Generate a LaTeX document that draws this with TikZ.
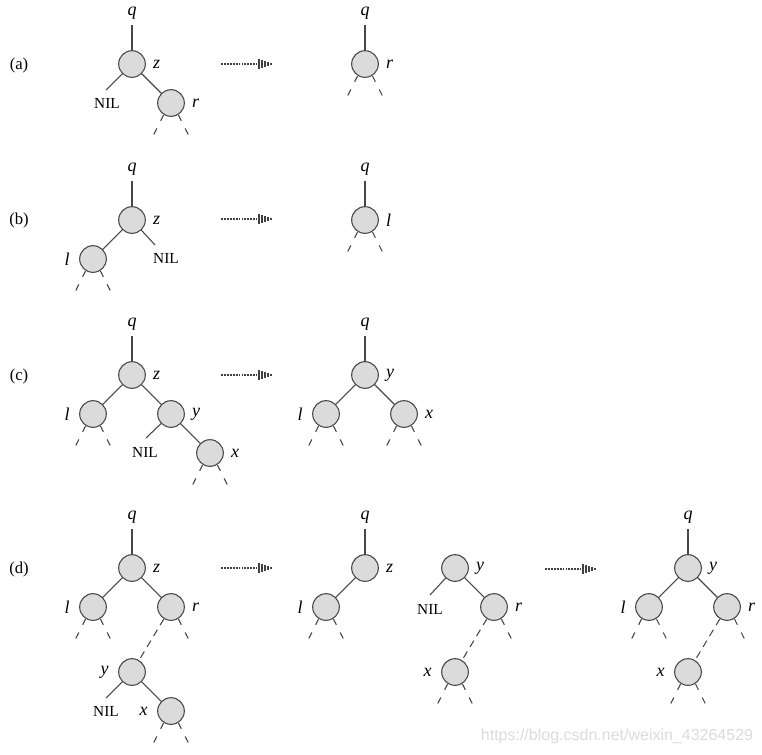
\documentclass[tikz,border=0pt]{standalone}
\usepackage{fontspec}
\setmainfont{Liberation Serif}
\newfontfamily\chuweb{Liberation Sans}
\begin{document}
\begin{tikzpicture}[x=0.75pt, y=-0.75pt,
    nut/.style={circle, draw=black!72, fill=black!14, line width=0.8pt, minimum size=20pt, inner sep=0pt},
    canh/.style={draw=black!72, line width=0.8pt},
    nhanh/.style={canh, dash pattern=on 5.5pt off 4pt},
    caycon/.style={canh, dash pattern=on 5pt off 6.5pt},
    nhan/.style={font=\fontsize{13.5}{15}\selectfont\itshape, text=black, inner sep=2pt},
    goc/.style={nhan, inner sep=4.5pt},
    chunil/.style={font=\fontsize{11.5}{13}\selectfont, text=black, inner sep=0pt},
    tenhinh/.style={font=\fontsize{12.5}{14}\selectfont, text=black},
    phai/.style={label={[nhan, label distance=3.2pt]right:#1}},
    trai/.style={label={[nhan, label distance=5pt]left:#1}},
    muiten/.style={black!75, line width=1.8pt, dash pattern=on 1.4pt off 0.8pt},
    dauten/.style={black!75, line width=0.9pt}]
    % 1. Khung hình
    \useasboundingbox (0,0) rectangle (762,754);

    % 2. Hàng (a)
    \node[tenhinh] (aTen) at (19,65) {(a)};
    \node[nut, phai=z] (aZ) at (132,64) {};
    \node[goc] (aQ) at (132,13) {q};
    \node[nut, phai=r] (aR) at (171,103) {};
    \coordinate (aNilEnd) at (106,90);
    \node[chunil] (aNil) at (107,103) {NIL};
    \draw[canh] (aQ) -- (aZ);
    \draw[canh] (aZ) -- (aNilEnd);
    \draw[canh] (aZ) -- (aR);
    % cây sau khi xóa
    \node[nut, phai=r] (aR2) at (365,64) {};
    \node[goc] (aQ2) at (365,13) {q};
    \draw[canh] (aQ2) -- (aR2);

    % 3. Hàng (b)
    \node[tenhinh] (bTen) at (19,220) {(b)};
    \node[nut, phai=z] (bZ) at (132,220) {};
    \node[goc] (bQ) at (132,169) {q};
    \node[nut, trai=l] (bL) at (93,259) {};
    \coordinate (bNilEnd) at (155,245);
    \node[chunil] (bNil) at (166,258) {NIL};
    \draw[canh] (bQ) -- (bZ);
    \draw[canh] (bZ) -- (bL);
    \draw[canh] (bZ) -- (bNilEnd);
    % cây sau khi xóa
    \node[nut, phai=l] (bL2) at (365,220) {};
    \node[goc] (bQ2) at (365,169) {q};
    \draw[canh] (bQ2) -- (bL2);

    % 4. Hàng (c)
    \node[tenhinh] (cTen) at (19,376) {(c)};
    \node[nut, phai=z] (cZ) at (132,375) {};
    \node[goc] (cQ) at (132,324) {q};
    \node[nut, trai=l] (cL) at (93,414) {};
    \node[nut, phai=y] (cY) at (171,414) {};
    \coordinate (cNilEnd) at (146,438);
    \node[chunil] (cNil) at (145,452) {NIL};
    \node[nut, phai=x] (cX) at (210,453) {};
    \draw[canh] (cQ) -- (cZ);
    \draw[canh] (cZ) -- (cL);
    \draw[canh] (cZ) -- (cY);
    \draw[canh] (cY) -- (cNilEnd);
    \draw[canh] (cY) -- (cX);
    % cây sau khi xóa
    \node[nut, phai=y] (cY2) at (365,375) {};
    \node[goc] (cQ2) at (365,324) {q};
    \node[nut, trai=l] (cL2) at (326,414) {};
    \node[nut, phai=x] (cX2) at (404,414) {};
    \draw[canh] (cQ2) -- (cY2);
    \draw[canh] (cY2) -- (cL2);
    \draw[canh] (cY2) -- (cX2);

    % 5. Hàng (d)
    \node[tenhinh] (dTen) at (19,569) {(d)};
    \node[nut, phai=z] (dZ) at (132,568) {};
    \node[goc] (dQ) at (132,517) {q};
    \node[nut, trai=l] (dL) at (93,607) {};
    \node[nut, phai=r] (dR) at (171,607) {};
    \node[nut, trai=y] (dY) at (132,672) {};
    \coordinate (dNilEnd) at (106,698);
    \node[chunil] (dNil) at (106,711) {NIL};
    \node[nut, trai=x] (dX) at (171,711) {};
    \draw[canh] (dQ) -- (dZ);
    \draw[canh] (dZ) -- (dL);
    \draw[canh] (dZ) -- (dR);
    \draw[nhanh] (dR) -- (dY);
    \draw[canh] (dY) -- (dNilEnd);
    \draw[canh] (dY) -- (dX);
    % bước giữa
    \node[nut, phai=z] (dZ2) at (365,568) {};
    \node[goc] (dQ2) at (365,517) {q};
    \node[nut, trai=l] (dL2) at (326,607) {};
    \draw[canh] (dQ2) -- (dZ2);
    \draw[canh] (dZ2) -- (dL2);
    \node[nut, phai=y] (dY3) at (455,568) {};
    \coordinate (dNil3End) at (430,595);
    \node[chunil] (dNil3) at (430,609) {NIL};
    \node[nut, phai=r] (dR3) at (494,607) {};
    \node[nut, trai=x] (dX3) at (455,672) {};
    \draw[canh] (dY3) -- (dNil3End);
    \draw[canh] (dY3) -- (dR3);
    \draw[nhanh] (dR3) -- (dX3);
    % cây sau khi xóa
    \node[nut, phai=y] (dY4) at (688,568) {};
    \node[goc] (dQ4) at (688,517) {q};
    \node[nut, trai=l] (dL4) at (649,607) {};
    \node[nut, phai=r] (dR4) at (727,607) {};
    \node[nut, trai=x] (dX4) at (688,672) {};
    \draw[canh] (dQ4) -- (dY4);
    \draw[canh] (dY4) -- (dL4);
    \draw[canh] (dY4) -- (dR4);
    \draw[nhanh] (dR4) -- (dX4);

    % 6. Các cây con (nét đứt)
    \foreach \n in {aR, aR2, bL, bL2, cL, cX, cL2, cX2, dL, dX, dL2, dX3, dL4, dX4} {
        \draw[caycon] (\n.-122) -- ++(-10,20);
        \draw[caycon] (\n.-58) -- ++(10,20);
    }
    \foreach \n in {dR, dR3, dR4}
        \draw[caycon] (\n.-58) -- ++(10,20);

    % 7. Mũi tên biến đổi
    \foreach \ax/\ay in {221/64, 221/219, 221/375, 221/568, 545/569} {
        \draw[muiten] (\ax,\ay) -- ++(36,0);
        \foreach \k in {0,...,4}
            \draw[dauten] (\ax+38+3*\k, \ay-5+\k) -- ++(0,10-2*\k);
    }

    % 8. Chữ mờ
    \node[text=black!14, font=\chuweb\fontsize{12}{14}\selectfont] (webTen) at (617,736) {https://blog.csdn.net/weixin\_43264529};
\end{tikzpicture}
\end{document}
